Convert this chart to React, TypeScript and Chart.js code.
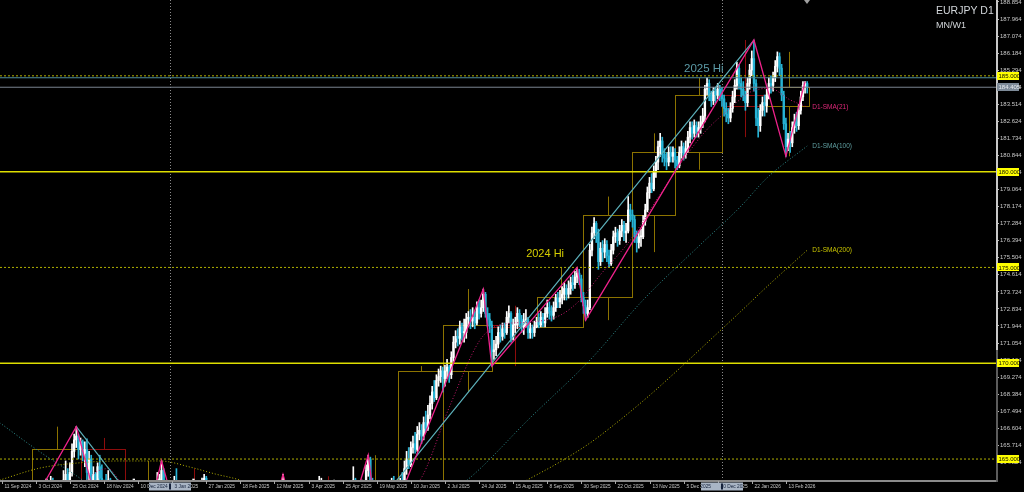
import React, { useEffect, useRef } from 'react';
import { Chart, registerables } from 'chart.js';

Chart.register(...registerables);

// ---------- DATA ----------
const firstOpen = 157.5;

const closes = [
  // Sep 2024
  156.6,157.0,156.4,155.6,156.5,157.9,159.9,160.3,159.6,160.8,160.2,162.1,159.0,159.6,
  // Oct 2024
  159.3,159.7,162.2,163.0,163.4,162.9,163.3,163.3,163.4,163.8,162.7,162.6,162.0,162.5,162.8,163.9,164.2,163.7,164.3,165.4,166.0,166.2,165.5,
  // Nov 2024
  165.9,165.3,165.5,164.3,165.0,163.9,164.2,163.0,164.6,164.0,163.7,163.5,163.3,163.9,162.5,160.7,161.3,159.8,159.5,158.6,158.3,
  // Dec 2024
  157.6,158.4,159.4,158.8,158.8,159.4,158.9,160.0,160.3,160.0,161.0,161.4,159.7,162.5,163.3,163.9,163.9,164.4,163.6,163.4,162.7,
  // Jan 2025
  161.7,161.8,163.4,162.9,162.6,162.5,161.8,161.6,162.4,161.1,160.9,160.9,162.5,162.0,163.0,163.8,164.0,161.6,162.2,161.3,160.9,161.1,
  // Feb 2025
  158.8,159.6,157.7,157.6,157.4,157.0,157.6,159.3,159.9,159.3,158.9,158.7,158.0,156.8,157.6,156.6,156.3,156.7,155.8,156.3,
  // Mar 2025
  157.0,158.3,160.5,159.8,160.4,160.5,161.0,161.9,160.8,161.5,162.2,163.3,162.8,161.5,161.1,162.0,162.6,161.3,162.9,162.3,161.9,
  // Apr 2025
  161.1,161.7,161.4,161.2,161.4,160.5,161.0,163.2,163.4,162.4,161.0,160.7,161.9,162.1,163.2,162.2,161.9,163.0,163.2,163.3,162.5,161.6,
  // May 2025
  162.3,163.9,162.7,162.6,162.9,163.3,163.4,164.4,165.0,163.8,162.9,163.3,162.6,162.8,163.0,162.0,162.6,162.1,163.4,163.7,163.2,163.5,
  // Jun 2025
  163.3,163.8,163.6,164.5,165.0,164.7,165.6,165.8,165.5,166.3,166.5,166.2,166.9,166.6,167.3,167.9,168.5,168.2,169.1,169.3,169.6,
  // Jul 2025
  169.2,169.6,169.8,169.4,170.3,171.1,171.4,171.3,171.9,171.6,171.6,172.3,172.4,172.2,172.4,172.1,172.9,172.6,172.9,173.6,172.6,172.3,172.0,
  // Aug 2025
  170.6,170.7,171.0,171.6,171.4,171.8,171.6,172.4,172.6,171.3,172.0,172.0,172.6,172.3,171.9,172.2,172.3,171.6,171.8,171.6,171.9,
  // Sep 2025
  172.2,172.0,172.4,172.1,172.6,172.9,172.7,172.5,172.9,173.4,173.2,173.4,173.6,173.9,173.6,173.9,174.2,174.1,174.5,174.7,174.4,173.45,
  // Oct 2025
  173.0,172.6,172.9,175.9,176.8,177.3,176.8,175.3,176.0,175.8,176.2,175.6,175.2,175.9,176.6,176.8,176.4,176.9,177.2,176.8,176.9,178.0,177.75,
  // Nov 2025
  177.5,176.6,176.3,176.6,176.6,177.4,178.0,178.9,179.4,179.1,180.0,180.5,181.3,181.6,180.9,180.7,180.5,181.0,180.8,181.0,
  // Dec 2025
  180.6,180.3,181.0,181.3,180.9,181.2,181.8,182.3,182.0,182.4,182.1,182.3,182.6,182.9,184.3,184.6,184.0,183.7,184.2,184.0,184.3,184.0,
  // Jan 2026
  183.8,183.3,183.0,182.8,183.3,183.9,184.5,185.4,184.6,184.3,184.0,183.6,184.6,185.3,185.9,184.6,182.8,182.4,183.2,183.6,183.45,
  // Feb 2026
  184.0,184.6,184.5,184.9,185.5,186.0,185.4,184.0,182.5,181.3,181.7,181.5,182.3,182.6,182.4,183.2,183.9,184.5,184.6,184.405,
];

const highs = [
  157.8,157.5,157.4,156.6,156.9,158.3,160.2,160.6,160.5,161.1,161.2,162.5,162.4,160.1,
  160.2,160.1,162.5,163.5,163.8,163.5,163.6,163.8,163.8,164.1,164.0,163.2,162.9,162.8,163.4,164.4,164.9,164.5,164.8,165.8,166.3,166.69,166.3,
  166.1,166.0,165.9,166.05,165.4,165.2,164.6,164.3,164.8,165.2,164.7,163.9,164.2,164.4,164.0,162.9,161.8,161.4,160.3,159.7,159.0,
  158.7,158.7,159.7,159.8,159.3,159.8,159.6,160.3,160.6,160.9,161.3,161.6,161.5,162.9,163.6,164.3,164.2,164.9,164.5,163.9,163.6,
  162.9,162.2,164.1,164.5,163.2,163.0,162.9,161.9,162.6,162.5,161.5,161.4,162.8,162.6,163.2,164.0,164.2,164.1,162.5,162.4,161.8,161.6,
  161.3,160.0,159.8,158.3,158.2,157.8,157.9,159.6,160.2,160.6,159.6,159.3,159.1,158.2,157.9,157.8,156.9,157.0,156.9,156.6,
  157.5,158.6,160.8,160.9,160.8,160.9,161.7,162.2,162.1,161.9,162.8,164.2,163.6,163.0,161.9,162.4,162.9,162.7,163.1,163.3,162.6,
  162.2,162.1,162.5,161.9,162.2,161.9,162.3,164.1,164.0,163.5,162.6,161.5,162.1,162.4,163.9,163.5,163.0,163.3,163.6,163.7,163.5,162.8,
  162.6,164.6,164.0,163.2,163.1,163.9,163.7,164.7,165.2,165.1,164.0,163.6,163.4,163.1,163.3,163.2,162.9,162.9,163.6,164.0,164.1,163.7,
  163.8,164.0,164.3,164.9,165.4,165.6,165.9,166.2,166.4,166.7,166.9,166.8,167.2,167.5,167.8,168.3,168.8,169.1,169.4,169.7,169.85,
  169.8,169.9,170.2,169.9,170.6,171.4,171.7,171.8,172.2,172.1,172.3,172.6,172.7,172.8,172.9,172.7,173.2,173.3,173.3,173.87,173.7,172.9,172.6,
  172.2,171.2,171.4,171.9,172.0,172.1,172.1,172.7,173.0,172.7,172.3,172.4,172.9,172.8,172.5,172.6,172.8,172.4,172.1,172.0,172.2,
  172.4,172.6,172.7,172.6,172.9,173.3,173.2,173.0,173.2,173.6,173.7,173.8,174.0,174.2,174.1,174.3,174.5,174.6,174.8,175.0,174.9,174.6,
  173.7,173.3,173.3,176.2,177.1,177.6,177.4,177.0,176.3,176.4,176.5,176.4,175.9,176.2,176.9,177.1,177.0,177.2,177.5,177.4,177.3,178.7,178.3,
  178.0,177.7,176.9,176.9,177.0,177.7,178.3,179.2,179.7,179.9,180.3,180.8,181.6,182.0,181.8,181.2,181.0,181.3,181.3,181.3,
  181.2,180.8,181.3,181.6,181.5,181.6,182.1,182.6,182.6,182.7,182.6,182.6,182.9,183.3,184.5,184.9,184.8,184.2,184.4,184.4,184.6,184.5,
  184.4,184.0,183.6,183.3,183.6,184.2,184.8,185.7,185.6,184.9,184.7,184.2,184.9,185.6,186.3,186.87,184.8,183.3,183.5,183.9,184.0,
  184.3,184.9,185.0,185.2,185.8,186.25,186.2,185.6,184.2,182.8,182.0,182.1,182.6,183.0,183.1,183.5,184.2,184.7,184.7,184.7,
];

const lows = [
  155.9,156.1,156.0,155.2,155.4,156.2,157.6,159.3,159.2,159.4,159.9,160.0,158.7,158.4,
  158.9,158.8,159.5,161.6,162.6,162.4,162.8,162.7,163.0,163.2,162.5,162.3,161.8,161.9,162.2,162.6,163.6,163.3,163.5,164.1,165.1,165.6,165.0,
  165.2,164.9,164.6,163.4,163.9,163.6,163.5,162.8,162.9,163.7,162.9,162.6,161.9,163.1,162.2,159.6,160.4,159.4,158.4,158.3,157.8,
  157.2,157.4,158.1,158.5,158.1,158.6,158.7,158.8,159.5,159.8,159.9,160.7,159.4,159.5,162.3,163.2,163.6,163.8,163.4,162.9,162.5,
  161.3,161.2,161.7,162.6,162.3,162.0,161.3,160.8,161.3,160.9,160.6,160.0,160.7,161.5,161.8,162.8,163.3,160.9,161.2,161.0,160.5,160.4,
  158.3,158.5,157.4,156.9,156.9,156.6,156.8,157.4,158.9,159.0,158.5,158.2,157.7,156.4,156.5,156.2,155.8,156.0,155.6,155.7,
  155.9,156.6,158.1,159.5,159.3,159.7,160.1,160.7,160.5,160.6,161.3,162.0,162.4,161.2,160.7,161.0,161.7,161.0,161.3,161.9,160.3,
  160.8,160.9,160.3,159.6,158.9,160.1,158.6,160.6,161.9,162.1,160.8,160.2,160.6,161.7,161.9,161.9,161.6,161.7,162.7,162.4,162.2,161.2,
  161.5,162.2,162.5,162.3,162.2,162.7,162.8,163.2,164.1,163.6,162.6,162.7,162.3,162.2,162.4,161.6,161.5,161.8,161.9,163.1,162.6,162.9,
  162.9,162.9,163.3,163.5,164.2,164.5,164.6,165.3,165.3,165.4,166.0,165.8,166.0,166.4,166.5,167.1,167.6,168.0,168.1,168.8,169.0,
  168.5,168.8,169.2,169.0,169.2,170.1,170.8,170.9,171.0,171.2,171.1,171.3,171.9,171.8,171.9,171.8,172.0,172.3,172.4,172.7,172.4,171.9,171.6,
  169.85,170.2,170.4,170.8,171.1,171.2,171.3,171.5,172.1,171.1,171.2,171.6,171.8,171.9,171.6,171.5,171.9,171.3,171.3,171.3,171.4,
  171.85,171.85,171.9,171.9,171.9,172.4,172.3,172.2,172.3,172.7,172.9,172.9,173.1,173.3,173.3,173.4,173.6,173.8,173.9,174.2,174.1,173.2,
  172.6,172.25,172.4,172.8,175.6,176.5,176.3,174.9,175.1,175.3,175.5,175.3,175.0,175.1,175.7,176.3,176.1,176.2,176.6,176.4,176.3,176.8,177.4,
  177.1,176.3,175.8,176.0,176.1,176.5,177.2,177.9,178.6,178.9,179.0,179.7,180.1,180.8,180.5,180.3,180.1,180.3,180.5,180.5,
  180.2,180.1,180.2,180.7,180.6,180.7,181.0,181.5,181.7,181.8,181.8,181.8,182.0,182.3,182.6,184.0,183.7,183.4,183.5,183.6,183.8,183.7,
  183.4,182.9,182.6,182.5,182.6,183.1,183.6,184.3,184.3,183.9,183.7,183.2,183.4,184.3,185.0,184.2,182.4,181.8,182.1,182.9,182.9,
  183.1,183.8,184.1,184.2,184.7,185.2,185.0,183.7,182.2,180.8,181.1,181.0,181.3,182.0,182.1,182.2,183.0,183.7,184.1,184.1,
];

// bottom axis labels, one every 16 daily bars from bar 0
const xTickLabels = [
  '11 Sep 2024','3 Oct 2024','25 Oct 2024','18 Nov 2024','10 Dec 2024','3 Jan 2025',
  '27 Jan 2025','18 Feb 2025','12 Mar 2025','3 Apr 2025','25 Apr 2025','19 May 2025',
  '10 Jun 2025','2 Jul 2025','24 Jul 2025','15 Aug 2025','8 Sep 2025','30 Sep 2025',
  '22 Oct 2025','13 Nov 2025','5 Dec 2025','30 Dec 2025','22 Jan 2026','13 Feb 2026',
];
const xTickStep = 16;

const yTickLabels = [
  '188.854','187.964','187.074','186.184','185.294','184.404','183.514','182.624','181.734','180.844',
  '179.954','179.064','178.174','177.284','176.394','175.504','174.614','173.724','172.834','171.944',
  '171.054','170.164','169.274','168.384','167.494','166.604','165.714','164.824',
];

// first daily bar of each month (MN overlay boxes)
const monthStarts = [14, 37, 58, 79, 101, 121, 142, 164, 186, 207, 230, 251, 273, 296, 316, 338, 359];
const yearSeparators = [79, 338];

const solidLevels = [180, 170];
const dottedLevels = [185, 175, 165];
const hi2025 = 184.9;

const pinkZigzag = [
  [[10, 161.8], [35, 166.69], [43.8, 163.0]],
  [[72, 163.5], [75, 164.9], [78.5, 163.5]],
  [[130, 163.4], [132, 164.2], [134, 163.4]],
  [[166, 163.0], [172, 165.2], [175, 162.6]],
  [[186, 162.8], [226, 173.87], [230, 169.85], [270, 175.0], [274, 172.25], [353, 186.87], [368, 180.8], [377, 184.7]],
];
const tealZigzag = [
  [[35, 166.69], [57.9, 163.4]],
  [[180, 163.15], [353, 186.87]],
];

const sma21 = [
  [[38, 163.7], [41, 164.0], [44, 164.3], [47, 164.45], [50, 164.5], [53, 164.2], [56, 163.7]],
  [[186, 163.2], [196.3, 163.9], [210.4, 167.8], [224.4, 171.2], [233.7, 172.0], [247.9, 172.15], [262, 172.5],
   [271.4, 173.3], [280.8, 174.6], [294.8, 176.4], [308.9, 178.8], [323, 181.1], [331, 182.2], [341.8, 183.3],
   [351.2, 184.15], [360.5, 184.35], [369.9, 183.75], [378, 183.37]],
];
const sma100 = [
  [[-1, 166.9], [18, 165.37], [36.7, 164.0], [45, 163.3]],
  [[210, 163.3], [218.4, 163.9], [247.9, 167.14], [276.1, 170.17], [301, 173.3], [327.7, 176.17],
   [346.5, 178.15], [359.1, 179.67], [378, 181.34]],
];
const sma200 = [
  [[-1, 163.9], [18, 164.53], [35.3, 164.79], [55.5, 164.9], [74.3, 164.9], [88.4, 164.58], [100.2, 164.22], [111.8, 163.9], [118, 163.6]],
  [[240, 163.5], [246.5, 163.9], [262, 164.85], [276.1, 165.84], [290.2, 167.04], [304.2, 168.34], [318.3, 169.75],
   [332.4, 171.21], [346.5, 172.67], [360.5, 174.14], [378, 175.9]],
];

// ---------- VIEW ----------
const X_MIN = -0.8;
const X_MAX = 466.6;
const Y_MIN = 163.906;
const Y_MAX = 188.958;

const BULL = '#ffffff';
const BEAR = '#26b3d5';
const OLIVE = '#8c7300';
const DARKRED = '#8e0c0c';
const FONT = '"Liberation Sans", Arial, sans-serif';

const opens = closes.map((c, i) => (i === 0 ? firstOpen : closes[i - 1]));

function segData(segs: number[][][]) {
  const out: any[] = [];
  segs.forEach((s, k) => {
    s.forEach(([x, y]) => out.push({ x, y }));
    if (k < segs.length - 1) out.push({ x: s[s.length - 1][0], y: null });
  });
  return out;
}

function levelData(v: number) {
  return [{ x: X_MIN, y: v }, { x: X_MAX, y: v }];
}

const overlayPlugin = {
  id: 'mtOverlay',
  beforeDatasetsDraw(chart: any) {
    const { ctx, chartArea: a, scales } = chart;
    const x = scales.x, y = scales.y;
    ctx.save();
    ctx.beginPath();
    ctx.rect(a.left, a.top, a.right - a.left, a.bottom - a.top);
    ctx.clip();
    // year separators
    ctx.strokeStyle = '#8a8a8a';
    ctx.lineWidth = 1;
    ctx.setLineDash([1, 2]);
    yearSeparators.forEach((i) => {
      const px = Math.round(x.getPixelForValue(i)) + 0.5;
      ctx.beginPath();
      ctx.moveTo(px, a.top);
      ctx.lineTo(px, a.bottom);
      ctx.stroke();
    });
    ctx.setLineDash([]);
    // monthly candles as boxes
    monthStarts.forEach((s, m) => {
      const e = (m < monthStarts.length - 1 ? monthStarts[m + 1] : closes.length) - 1;
      const o = opens[s];
      const c = closes[e];
      let h = -Infinity, l = Infinity;
      for (let i = s; i <= e; i++) { h = Math.max(h, highs[i]); l = Math.min(l, lows[i]); }
      const left = Math.round(x.getPixelForValue(s)) + 0.5;
      const right = Math.round(x.getPixelForValue(e + 1)) + 0.5;
      const top = Math.round(y.getPixelForValue(Math.max(o, c))) + 0.5;
      const bot = Math.round(y.getPixelForValue(Math.min(o, c))) + 0.5;
      const cx = Math.round((left + right) / 2) + 0.5;
      ctx.strokeStyle = c >= o ? OLIVE : DARKRED;
      ctx.lineWidth = 1;
      ctx.strokeRect(left, top, right - left, Math.max(1, bot - top));
      ctx.beginPath();
      ctx.moveTo(cx, y.getPixelForValue(h));
      ctx.lineTo(cx, top);
      ctx.moveTo(cx, bot);
      ctx.lineTo(cx, y.getPixelForValue(l));
      ctx.stroke();
    });
    ctx.restore();
  },
  afterDatasetsDraw(chart: any) {
    const { ctx, scales } = chart;
    const x = scales.x, y = scales.y;
    ctx.save();
    ctx.textBaseline = 'alphabetic';
    ctx.textAlign = 'left';
    ctx.font = `11.5px ${FONT}`;
    ctx.fillStyle = '#5b9aa6';
    ctx.fillText('2025 Hi', x.getPixelForValue(320.2), y.getPixelForValue(hi2025) - 6);
    ctx.font = `11px ${FONT}`;
    ctx.fillStyle = '#d6ce00';
    ctx.fillText('2024 Hi', x.getPixelForValue(246.1), y.getPixelForValue(175.43) - 2);

    ctx.font = `6.5px ${FONT}`;
    ctx.textBaseline = 'middle';
    const lbl = (segs: number[][][], text: string, color: string) => {
      const s = segs[segs.length - 1];
      const [li, lv] = s[s.length - 1];
      ctx.fillStyle = color;
      ctx.fillText(text, x.getPixelForValue(li) + 5, y.getPixelForValue(lv));
    };
    lbl(sma21, 'D1-SMA(21)', '#e0287a');
    lbl(sma100, 'D1-SMA(100)', '#5f9ea0');
    lbl(sma200, 'D1-SMA(200)', '#c8c400');
    ctx.restore();
  },
  afterDraw(chart: any) {
    const { ctx, chartArea: a, scales } = chart;
    const x = scales.x, y = scales.y;
    ctx.save();

    // axis lines
    ctx.fillStyle = '#8a8a8a';
    ctx.fillRect(0, a.bottom, a.right + 2, 2);
    ctx.fillStyle = '#c8c8c8';
    ctx.fillRect(a.right, 0, 2, 350);
    ctx.fillStyle = '#5c5c5c';
    ctx.fillRect(a.right, 350, 2, a.bottom + 2 - 350);

    // bottom axis ticks and labels
    const drawXLabels = (color: string) => {
      ctx.font = `4.8px ${FONT}`;
      ctx.textAlign = 'left';
      ctx.textBaseline = 'alphabetic';
      ctx.fillStyle = color;
      xTickLabels.forEach((lab, k) => {
        const px = Math.round(x.getPixelForValue(k * xTickStep)) + 0.5;
        ctx.fillText(lab, px + 2, 487.8);
      });
    };
    ctx.strokeStyle = '#a8a8a8';
    ctx.lineWidth = 1;
    xTickLabels.forEach((_, k) => {
      const px = Math.round(x.getPixelForValue(k * xTickStep)) + 0.5;
      ctx.beginPath();
      ctx.moveTo(px, a.bottom + 1);
      ctx.lineTo(px, a.bottom + 4);
      ctx.stroke();
    });
    drawXLabels('#c8c8c8');

    // highlighted separator labels on the time axis
    yearSeparators.forEach((i) => {
      const px = Math.round(x.getPixelForValue(i));
      const bx = px - 21, bw = 42, by = 482.5, bh = 8;
      ctx.fillStyle = '#a9b5c5';
      ctx.fillRect(bx, by, bw, bh);
      ctx.save();
      ctx.beginPath();
      ctx.rect(bx, by, bw, bh);
      ctx.clip();
      drawXLabels('#14213a');
      ctx.fillStyle = '#14213a';
      ctx.fillRect(px - 1, by + 1, 2, bh - 2);
      ctx.restore();
    });

    // price labels on the right axis
    const marks = [
      ...dottedLevels.map((v) => ({ v, bg: '#ffff00', fg: '#101000' })),
      ...solidLevels.map((v) => ({ v, bg: '#ffff00', fg: '#101000' })),
      { v: closes[closes.length - 1], bg: '#7d8a98', fg: '#e8ecf0' },
    ];
    ctx.font = `6px ${FONT}`;
    ctx.textBaseline = 'middle';
    ctx.textAlign = 'left';
    marks.forEach((mk) => {
      const py = y.getPixelForValue(mk.v);
      ctx.fillStyle = mk.bg;
      ctx.fillRect(a.right + 1, Math.round(py) - 4, 22, 8);
      ctx.fillStyle = mk.fg;
      ctx.fillText(mk.v.toFixed(3), a.right + 2.5, py + 0.5);
    });

    // chart shift marker
    const sx = Math.round(x.getPixelForValue(378));
    ctx.fillStyle = '#a0a0a0';
    ctx.beginPath();
    ctx.moveTo(sx - 3, 0);
    ctx.lineTo(sx + 3, 0);
    ctx.lineTo(sx, 4);
    ctx.closePath();
    ctx.fill();

    // title
    ctx.textBaseline = 'alphabetic';
    ctx.fillStyle = '#d2d6da';
    ctx.font = `10.5px ${FONT}`;
    ctx.fillText('EURJPY D1', 936, 13.5);
    ctx.font = `9px ${FONT}`;
    ctx.fillText('MN/W1', 936, 27.5);
    ctx.restore();
  },
};

export default function App() {
  const ref = useRef<HTMLCanvasElement>(null);

  useEffect(() => {
    document.body.style.margin = '0';
    document.body.style.background = '#000';
    const candleColor = (c: any) => (closes[c.dataIndex] >= opens[c.dataIndex] ? BULL : BEAR);
    const lineBase = { type: 'line', pointRadius: 0, spanGaps: false, clip: 0, fill: false, tension: 0 };
    const chart = new Chart(ref.current as HTMLCanvasElement, {
      type: 'bar',
      data: {
        datasets: [
          { ...lineBase, label: 'zigzag', data: segData(pinkZigzag), borderColor: '#f0228c', borderWidth: 1.3, order: 1 },
          { ...lineBase, label: 'trend', data: segData(tealZigzag), borderColor: '#5cb0ba', borderWidth: 1.2, order: 1 },
          { ...lineBase, label: 'SMA21', data: segData(sma21), borderColor: '#c4186c', borderWidth: 1, borderDash: [1, 2], cubicInterpolationMode: 'monotone', order: 2 },
          { ...lineBase, label: 'SMA100', data: segData(sma100), borderColor: '#2f8e8e', borderWidth: 1, borderDash: [1, 2], cubicInterpolationMode: 'monotone', order: 2 },
          { ...lineBase, label: 'SMA200', data: segData(sma200), borderColor: '#b8b400', borderWidth: 1, borderDash: [1, 2], cubicInterpolationMode: 'monotone', order: 2 },
          ...solidLevels.map((v) => ({ ...lineBase, label: 'L' + v, data: levelData(v), borderColor: '#dede00', borderWidth: 1.5, order: 3 })),
          ...dottedLevels.map((v) => ({ ...lineBase, label: 'D' + v, data: levelData(v), borderColor: '#b0b000', borderWidth: 1, borderDash: [2, 2], order: 3 })),
          { ...lineBase, label: '2025Hi', data: levelData(hi2025), borderColor: '#4f8c9c', borderWidth: 1, order: 3 },
          { ...lineBase, label: 'price', data: levelData(closes[closes.length - 1]), borderColor: '#7a8490', borderWidth: 1, order: 3 },
          {
            type: 'bar', label: 'body',
            data: closes.map((c, i) => ({ x: i, y: [opens[i], c] })),
            backgroundColor: candleColor, borderWidth: 0, barThickness: 1.7, minBarLength: 1,
            grouped: false, clip: 0, order: 5,
          },
          {
            type: 'bar', label: 'wick',
            data: closes.map((_, i) => ({ x: i, y: [lows[i], highs[i]] })),
            backgroundColor: candleColor, borderWidth: 0, barThickness: 1,
            grouped: false, clip: 0, order: 6,
          },
        ] as any,
      },
      options: {
        responsive: true,
        maintainAspectRatio: false,
        animation: false,
        devicePixelRatio: 1,
        events: [],
        layout: { padding: { left: 0, right: 0, top: 0, bottom: 12 }, autoPadding: false } as any,
        plugins: { legend: { display: false }, tooltip: { enabled: false } },
        scales: {
          x: { type: 'linear', min: X_MIN, max: X_MAX, display: false, offset: false, grid: { offset: false } },
          y: {
            type: 'linear', position: 'right', min: Y_MIN, max: Y_MAX,
            afterBuildTicks: (s: any) => { s.ticks = yTickLabels.map((t) => ({ value: parseFloat(t) })); },
            afterFit: (s: any) => { s.width = 28; s.paddingTop = 0; s.paddingBottom = 0; },
            grid: { drawOnChartArea: false, drawTicks: true, tickLength: 3, color: '#b8b8b8' },
            border: { display: false },
            ticks: {
              color: '#c8c8c8', font: { family: FONT, size: 6 }, padding: 1, autoSkip: false,
              callback: (v: any) => Number(v).toFixed(3),
            },
          },
        } as any,
      },
      plugins: [overlayPlugin],
    } as any);
    return () => chart.destroy();
  }, []);

  return (
    <div style={{ position: 'fixed', left: 0, top: 0, width: 1024, height: 492, background: '#000' }}>
      <canvas ref={ref} />
    </div>
  );
}
